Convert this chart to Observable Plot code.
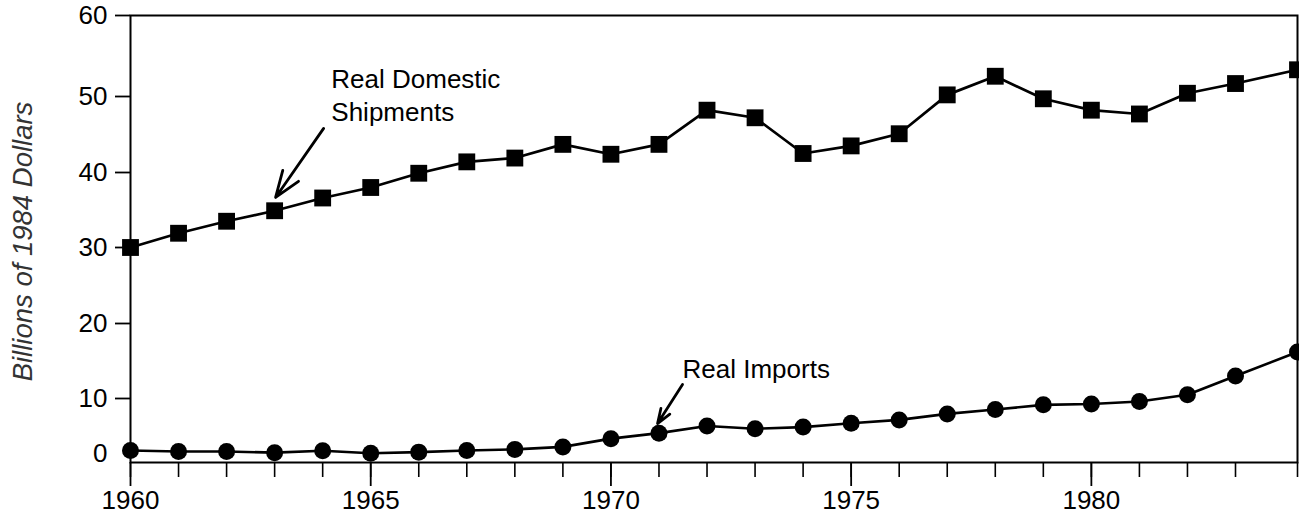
<!DOCTYPE html>
<html><head><meta charset="utf-8">
<script src="https://cdn.jsdelivr.net/npm/d3@7"></script>
<script src="https://cdn.jsdelivr.net/npm/@observablehq/plot@0.6"></script>
<style>html,body{margin:0;padding:0;background:#fff;}</style>
</head><body><div id="chart"></div>
<script>
const years = [1960,1961,1962,1963,1964,1965,1966,1967,1968,1969,1970,1971,1972,1973,1974,1975,1976,1977,1978,1979,1980,1981,1982,1983,1984];
const domestic = [30.0,31.9,33.5,34.9,36.6,38.0,39.9,41.4,41.9,43.7,42.4,43.7,48.2,47.2,42.5,43.5,45.1,50.2,52.5,49.7,48.2,47.7,50.4,51.6,53.3];
const imports = [0.55,0.36,0.36,0.15,0.5,0.05,0.25,0.55,0.75,1.2,2.7,3.7,5.0,4.5,4.8,5.5,6.1,7.2,8.0,8.85,9.0,9.45,10.5,13.0,16.2];
const majorYears = [1960,1965,1970,1975,1980];
const yTicks = [10,20,30,40,50,60];
const yLabels = [0,10,20,30,40,50,60];
const labels = [
  {text:"Real Domestic", year:1964.18, value:51.0},
  {text:"Shipments", year:1964.18, value:46.8},
  {text:"Real Imports", year:1971.49, value:12.67}
];
const arrows = [
  {x1:1964.02, y1:45.8, x2:1963.02, y2:36.67},
  {x1:1971.49, y1:11.87, x2:1970.97, y2:5.45}
];
const yAxisTitle = "Billions of 1984 Dollars";

const domData = years.map((y,i)=>({year:y, value:domestic[i]}));
const impData = years.map((y,i)=>({year:y, value:imports[i]}));

// The printed axes are not evenly spaced: piecewise-linear position scales
const xPiece = d3.scaleLinear().domain([1960, 1983, 1984]).range([130, 1235, 1297]);
const yPiece = d3.scaleLinear().domain([-1.6, 0, 10, 20, 30, 40, 50, 60]).range([462, 453, 398, 323, 247, 172, 96, 15]);

const chart = Plot.plot({
  width: 1299, height: 519,
  marginLeft: 130, marginRight: 2, marginTop: 15, marginBottom: 57,
  style: {fontFamily: "'Liberation Sans', Arial, sans-serif", fontSize: "26px", background: "#fff", color: "#000"},
  x: {type: "linear", transform: d => xPiece(d), domain: [130, 1297], range: [130, 1297]},
  y: {type: "linear", transform: d => yPiece(d), domain: [462, 15], range: [462, 15]},
  marks: [
    Plot.frame({stroke: "#000", strokeWidth: 2}),
    Plot.axisX(years, {tickSize: 15, tickFormat: () => "", strokeWidth: 1.6}),
    Plot.axisX(majorYears, {tickSize: 24, tickPadding: 4, tickFormat: (d, i) => String(majorYears[i]), strokeWidth: 1.8}),
    Plot.axisY(yTicks, {tickSize: 15, tickPadding: 8, tickFormat: () => "", strokeWidth: 1.8}),
    Plot.text(yLabels, {x: () => 1960, y: d => d, text: d => String(d), textAnchor: "end", dx: -23}),
    Plot.text([yAxisTitle], {frameAnchor: "left", dx: -107, dy: 2.5, rotate: -90, textAnchor: "middle", fontStyle: "italic", fontSize: 27.5, fill: "#333", text: d => d}),
    Plot.line(domData, {x: "year", y: "value", stroke: "#000", strokeWidth: 2.7}),
    Plot.dot(domData, {x: "year", y: "value", symbol: "square", r: 9.5, fill: "#000"}),
    Plot.line(impData, {x: "year", y: "value", stroke: "#000", strokeWidth: 2.7}),
    Plot.dot(impData, {x: "year", y: "value", symbol: "circle", r: 8.5, fill: "#000"}),
    Plot.text(labels, {x: "year", y: "value", text: "text", textAnchor: "start", lineAnchor: "bottom", fill: "#000"}),
    Plot.arrow(arrows, {x1: "x1", y1: "y1", x2: "x2", y2: "y2", stroke: "#000", strokeWidth: 2.8, headLength: 17, headAngle: 40, insetEnd: 0, insetStart: 0})
  ]
});
document.getElementById("chart").appendChild(chart);
</script>
</body></html>
